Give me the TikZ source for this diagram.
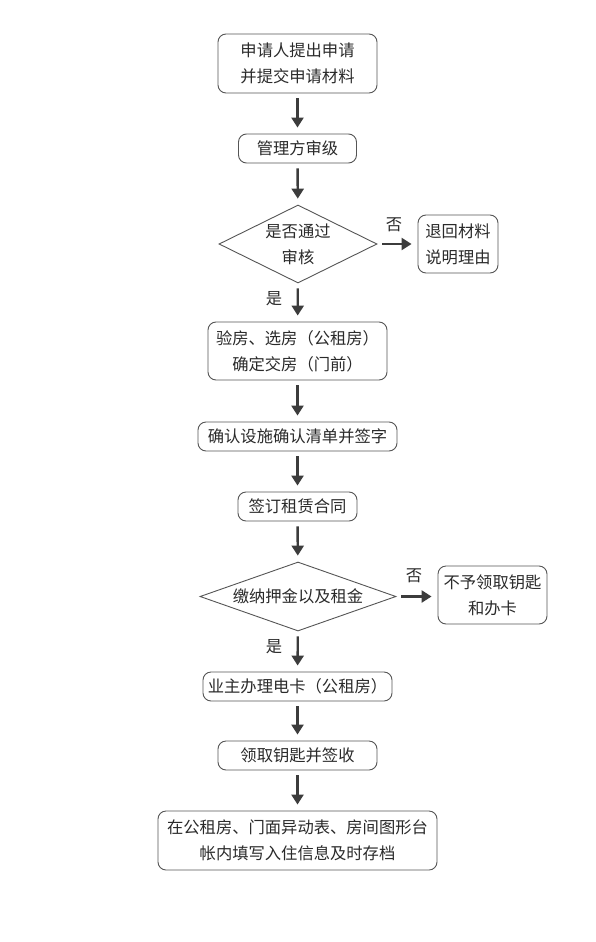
\documentclass[tikz,border=0pt]{standalone}
\usepackage{fontspec}
\setmainfont{Noto Sans CJK SC}
\usetikzlibrary{shapes.geometric, arrows.meta}
\definecolor{edge}{HTML}{555555}
\definecolor{arr}{HTML}{3C3C3C}
\definecolor{txt}{HTML}{2A2A2A}
\tikzset{
  stepbox/.style={draw=edge, line width=0.9pt, rounded corners=8pt, inner sep=0pt, align=center, text=txt},
  decide/.style={draw=edge, line width=0.9pt, diamond, inner sep=0pt, align=center, text=txt},
  lbl/.style={text=txt, inner sep=0pt},
  flow/.style={draw=arr, line width=2.4pt, -{Triangle[width=12pt,length=10pt]}, shorten <=5pt, shorten >=6pt}
}
\begin{document}
\begin{tikzpicture}[x=1pt, y=-1pt, every node/.style={font=\fontsize{16.3}{26}\selectfont}]
  \useasboundingbox[fill=white] (0,0) rectangle (595,942);
  % main column
  \node[stepbox, minimum width=159pt, minimum height=59pt] (apply) at (297.5,63.5) {申请人提出申请\\并提交申请材料};
  \node[stepbox, minimum width=118pt, minimum height=29pt] (review) at (297.5,148.5) {管理方审级};
  \node[decide, aspect=2.03, minimum width=158pt, minimum height=78pt] (pass) at (298,244) {是否通过\\审核};
  \node[stepbox, minimum width=80pt, minimum height=58pt] (back) at (458,244) {退回材料\\说明理由};
  \node[stepbox, minimum width=179pt, minimum height=58pt] (check) at (297.5,351) {验房、选房（公租房）\\确定交房（门前）};
  \node[stepbox, minimum width=199pt, minimum height=29pt] (sign) at (297.5,436.5) {确认设施确认清单并签字};
  \node[stepbox, minimum width=119pt, minimum height=29pt] (lease) at (297.5,506.5) {签订租赁合同};
  \node[decide, aspect=2.84, minimum width=196pt, minimum height=69pt] (pay) at (298,596.5) {缴纳押金以及租金};
  \node[stepbox, minimum width=109pt, minimum height=58pt] (nokey) at (492.5,595) {不予领取钥匙\\和办卡};
  \node[stepbox, minimum width=189pt, minimum height=29pt] (card) at (297.5,686.5) {业主办理电卡（公租房）};
  \node[stepbox, minimum width=159pt, minimum height=29pt] (key) at (297.5,755.5) {领取钥匙并签收};
  \node[stepbox, minimum width=279pt, minimum height=59pt] (record) at (297.5,840.5) {在公租房、门面异动表、房间图形台\\帐内填写入住信息及时存档};
  % yes / no labels
  \node[lbl] (no1) at (394,225) {否};
  \node[lbl] (yes1) at (274,299) {是};
  \node[lbl] (no2) at (414,576) {否};
  \node[lbl] (yes2) at (274,647) {是};
  % arrows
  \draw[flow] (apply) -- (review);
  \draw[flow] (review) -- (pass);
  \draw[flow] (pass.east) -- (pass.east -| back.west);
  \draw[flow] (pass) -- (check);
  \draw[flow] (check) -- (sign);
  \draw[flow] (sign) -- (lease);
  \draw[flow] (lease) -- (pay);
  \draw[flow] (pay.east) -- (pay.east -| nokey.west);
  \draw[flow] (pay) -- (card);
  \draw[flow] (card) -- (key);
  \draw[flow] (key) -- (record);
\end{tikzpicture}
\end{document}
